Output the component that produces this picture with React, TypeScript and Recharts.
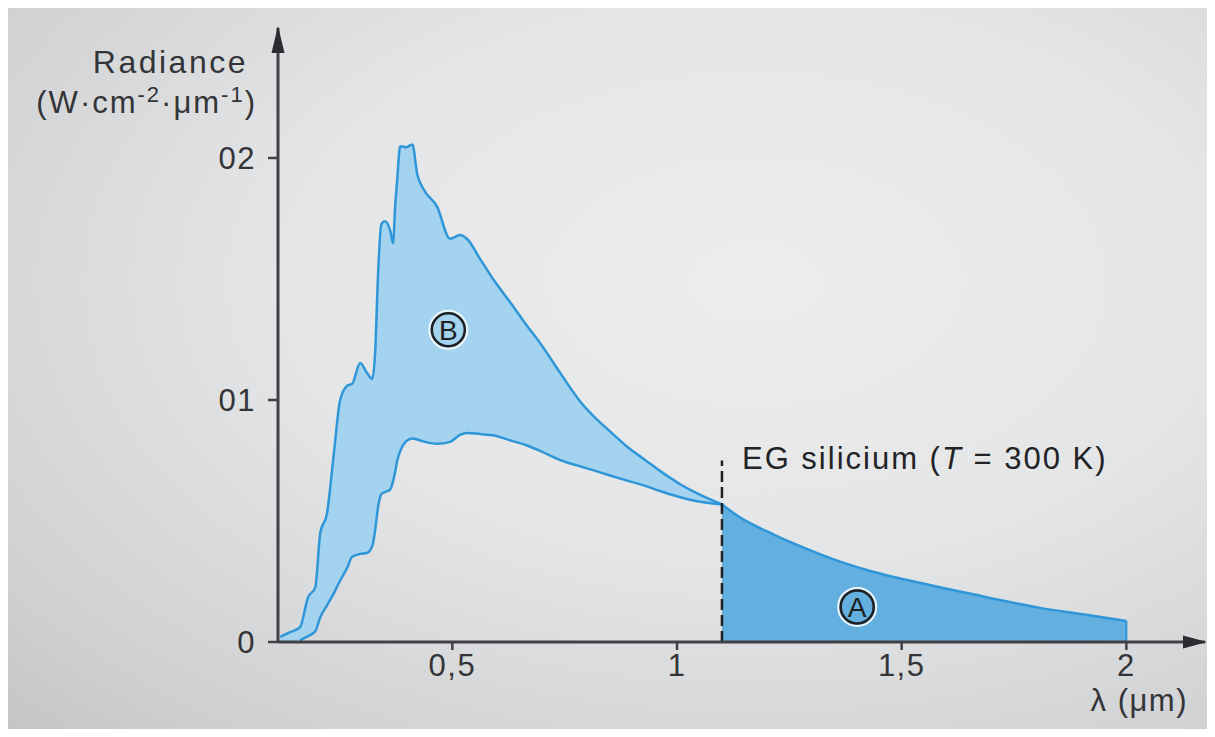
import React from "react";
import {
  ComposedChart,
  Area,
  Line,
  XAxis,
  YAxis,
  ReferenceLine,
  ReferenceDot,
} from "recharts";

const wavelengths = [
  0.117, 0.139, 0.161, 0.179, 0.195, 0.206, 0.221, 0.237, 0.25, 0.266, 0.277,
  0.295, 0.31, 0.322, 0.328, 0.335, 0.342, 0.35, 0.362, 0.368, 0.373, 0.377,
  0.384, 0.397, 0.411, 0.422, 0.435, 0.466, 0.495, 0.517, 0.533, 0.562, 0.591,
  0.629, 0.666, 0.695, 0.74, 0.784, 0.813, 0.851, 0.889, 0.929, 0.962, 1.007,
  1.036, 1.1,
];

// upper curve (outside the atmosphere), W·cm-2·µm-1
const extraterrestrial = [
  0.0021, 0.0041, 0.0061, 0.0185, 0.0226, 0.0449, 0.0531, 0.0791, 0.0997,
  0.1059, 0.1067, 0.1153, 0.1112, 0.1087, 0.119, 0.1533, 0.1727, 0.1739,
  0.1698, 0.1648, 0.1809, 0.1904, 0.2048, 0.2044, 0.2056, 0.1932, 0.1874,
  0.1799, 0.1666, 0.1682, 0.1665, 0.1582, 0.1499, 0.1403, 0.1307, 0.1236,
  0.1112, 0.0995, 0.0935, 0.087, 0.0807, 0.0752, 0.0707, 0.0652, 0.0622,
  0.0568,
];

// lower curve (ground level)
const groundLevel = [
  null, null, 0.0007, 0.0024, 0.0044, 0.0102, 0.0151, 0.0204, 0.0253, 0.0307,
  0.0352, 0.0364, 0.0368, 0.0397, 0.0459, 0.0562, 0.0611, 0.0619, 0.0631,
  0.0664, 0.0706, 0.0747, 0.0788, 0.0829, 0.0841, 0.0837, 0.0829, 0.0819,
  0.0827, 0.0856, 0.0864, 0.0859, 0.0854, 0.0833, 0.0812, 0.079, 0.0752,
  0.0726, 0.071, 0.0688, 0.0667, 0.0645, 0.0624, 0.0598, 0.0585, 0.0568,
];

// part beyond the silicon gap (region A)
const tailWavelengths = [
  1.1, 1.14, 1.214, 1.29, 1.363, 1.436, 1.512, 1.585, 1.659, 1.732, 1.808,
  1.91, 2.0,
];
const tailRadiance = [
  0.0568, 0.0515, 0.0445, 0.0384, 0.0332, 0.029, 0.0256, 0.0226, 0.0197,
  0.0168, 0.0141, 0.0113, 0.0087,
];

const xTicks = [0.5, 1, 1.5, 2];
const xTickLabels = ["0,5", "1", "1,5", "2"];
const yTicks = [0, 0.1, 0.2];
const yTickLabels = ["0", "01", "02"];

const gapWavelength = 1.1;
const gapLineTop = 0.075;

const X_MIN = 0.112;
const X_MAX = 2.175;
const Y_MAX = 0.2537;

type Row = {
  lambda: number;
  upper?: number;
  lower?: number;
  band?: [number, number];
  tail?: number;
};

const rows: Row[] = wavelengths.map((l, i) => ({
  lambda: l,
  upper: extraterrestrial[i],
  lower: groundLevel[i] ?? undefined,
  band: [groundLevel[i] ?? 0, extraterrestrial[i]],
}));
tailWavelengths.forEach((l, i) => {
  const existing = rows.find((r) => r.lambda === l);
  if (existing) existing.tail = tailRadiance[i];
  else rows.push({ lambda: l, tail: tailRadiance[i] });
});

const FONT = '"Liberation Sans", Arial, Helvetica, sans-serif';
const AXIS = "#3f4145";
const TEXT = "#333437";
const LINE = "#2f96d8";
const FILL_B = "#a4d3f0";
const FILL_A = "#63b0e0";

const ArrowUp = (p: any) => (
  <path
    d={`M${p.cx},${p.cy - 2} L${p.cx - 6.5},${p.cy + 25} L${p.cx + 6.5},${p.cy + 25} Z`}
    fill="#2b2c2f"
  />
);

const ArrowRight = (p: any) => (
  <path
    d={`M${p.cx + 2},${p.cy} L${p.cx - 22},${p.cy - 6.5} L${p.cx - 22},${p.cy + 6.5} Z`}
    fill="#2b2c2f"
  />
);

const circled = (letter: string) => (p: any) => (
  <g>
    <circle cx={p.cx} cy={p.cy} r={19} fill="none" stroke="#eef5fa" strokeWidth={2} />
    <circle cx={p.cx} cy={p.cy} r={16.5} fill="none" stroke="#1f2022" strokeWidth={2.5} />
    <text
      x={p.cx}
      y={p.cy + 10}
      textAnchor="middle"
      fontFamily={FONT}
      fontSize={28}
      fill="#1f2022"
    >
      {letter}
    </text>
  </g>
);

const GapLabel = (p: any) => (
  <text
    x={p.cx + 20}
    y={p.cy + 9}
    fontFamily={FONT}
    fontSize={31}
    letterSpacing={2}
    fill="#222326"
  >
    EG silicium (<tspan fontStyle="italic">T</tspan> = 300 K)
  </text>
);

export default function App() {
  return (
    <div
      style={{
        position: "relative",
        width: 1204,
        height: 721,
        background:
          "radial-gradient(ellipse at 62% 38%, #ededed 0%, #e4e5e6 45%, #cfd0d2 85%, #c4c5c7 100%)",
      }}
    >
      <ComposedChart
        width={1204}
        height={721}
        data={rows}
        margin={{ top: 20, right: 7, bottom: 47, left: 210 }}
      >
        <XAxis
          dataKey="lambda"
          type="number"
          domain={[X_MIN, X_MAX]}
          ticks={xTicks}
          tickFormatter={(v: number) => xTickLabels[xTicks.indexOf(v)]}
          allowDataOverflow
          height={40}
          tickSize={8}
          tickMargin={4}
          axisLine={{ stroke: AXIS, strokeWidth: 3 }}
          tickLine={{ stroke: AXIS, strokeWidth: 2.5 }}
          tick={{ fill: TEXT, fontSize: 31, fontFamily: FONT, letterSpacing: 1.5 }}
        />
        <YAxis
          type="number"
          domain={[0, Y_MAX]}
          ticks={yTicks}
          tickFormatter={(v: number) => yTickLabels[yTicks.indexOf(v)]}
          allowDataOverflow
          width={60}
          tickSize={10}
          tickMargin={12}
          axisLine={{ stroke: AXIS, strokeWidth: 3 }}
          tickLine={{ stroke: AXIS, strokeWidth: 2.5 }}
          tick={{ fill: TEXT, fontSize: 31, fontFamily: FONT, letterSpacing: 1.5 }}
        />

        <Area
          dataKey="band"
          type="monotone"
          stroke="none"
          fill={FILL_B}
          fillOpacity={1}
          isAnimationActive={false}
          activeDot={false}
        />
        <Area
          dataKey="tail"
          type="monotone"
          stroke="none"
          fill={FILL_A}
          fillOpacity={1}
          isAnimationActive={false}
          activeDot={false}
        />
        <Line
          dataKey="upper"
          type="monotone"
          stroke={LINE}
          strokeWidth={2.5}
          dot={false}
          activeDot={false}
          isAnimationActive={false}
        />
        <Line
          dataKey="lower"
          type="monotone"
          stroke={LINE}
          strokeWidth={2.5}
          dot={false}
          activeDot={false}
          isAnimationActive={false}
        />
        <Line
          dataKey="tail"
          type="monotone"
          stroke={LINE}
          strokeWidth={2.5}
          dot={false}
          activeDot={false}
          isAnimationActive={false}
        />
        <ReferenceLine
          segment={[
            { x: tailWavelengths[tailWavelengths.length - 1], y: 0 },
            {
              x: tailWavelengths[tailWavelengths.length - 1],
              y: tailRadiance[tailRadiance.length - 1],
            },
          ]}
          stroke={LINE}
          strokeWidth={2}
          ifOverflow="visible"
        />
        <ReferenceLine
          segment={[
            { x: gapWavelength, y: 0 },
            { x: gapWavelength, y: gapLineTop },
          ]}
          stroke="#1e1f21"
          strokeWidth={2.5}
          strokeDasharray="11 5"
          ifOverflow="visible"
        />

        <ReferenceDot x={gapWavelength} y={gapLineTop} ifOverflow="visible" shape={GapLabel} />
        <ReferenceDot x={0.491} y={0.129} ifOverflow="visible" shape={circled("B")} />
        <ReferenceDot x={1.401} y={0.0145} ifOverflow="visible" shape={circled("A")} />
        <ReferenceDot x={X_MIN} y={Y_MAX} ifOverflow="visible" shape={ArrowUp} />
        <ReferenceDot x={X_MAX} y={0} ifOverflow="visible" shape={ArrowRight} />
      </ComposedChart>

      <svg
        width={1204}
        height={721}
        style={{ position: "absolute", left: 0, top: 0, pointerEvents: "none" }}
      >
        <text x={240} y={65} textAnchor="end" fontFamily={FONT} fontSize={32} letterSpacing={2.5} fill={TEXT}>
          Radiance
        </text>
        <text x={249} y={105} textAnchor="end" fontFamily={FONT} fontSize={31} letterSpacing={2} fill={TEXT}>
          (W·cm
          <tspan fontSize={22} dy={-11}>-2</tspan>
          <tspan dy={11}>·μm</tspan>
          <tspan fontSize={22} dy={-11}>-1</tspan>
          <tspan dy={11}>)</tspan>
        </text>
        <text x={1180} y={703} textAnchor="end" fontFamily={FONT} fontSize={31} letterSpacing={1.5} fill={TEXT}>
          λ (μm)
        </text>
      </svg>
    </div>
  );
}
